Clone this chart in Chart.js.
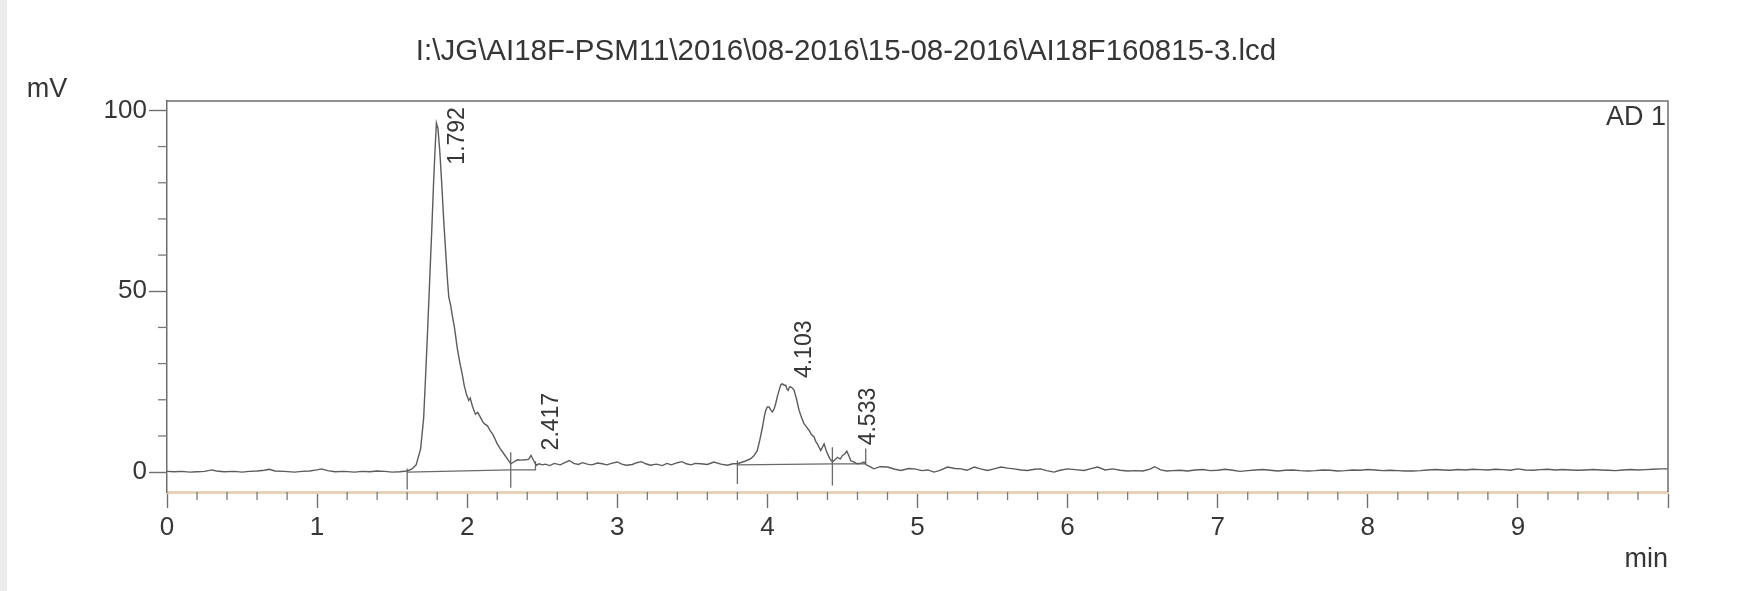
<!DOCTYPE html>
<html>
<head>
<meta charset="utf-8">
<script src="https://cdn.jsdelivr.net/npm/chart.js@4.4.1/dist/chart.umd.min.js"></script>
<style>
  html, body { margin: 0; padding: 0; background: #ffffff; }
  #wrap { width: 1758px; height: 591px; }
</style>
</head>
<body>
<div id="wrap"><canvas id="myChart" width="1758" height="591"></canvas></div>
<script>
// chromatogram trace, time in min and signal in mV
var timeMin = [
  0.00, 0.05, 0.10, 0.15, 0.20, 0.25, 0.30, 0.33, 0.38, 0.45, 0.50, 0.55, 0.60, 0.65, 0.68, 0.72, 0.78, 0.85, 0.90, 0.95,
  1.00, 1.03, 1.07, 1.12, 1.18, 1.25, 1.30, 1.35, 1.40, 1.45, 1.50, 1.55, 1.60,
  1.63, 1.66, 1.69, 1.71, 1.72, 1.735, 1.75, 1.765, 1.776, 1.788, 1.795, 1.805, 1.817, 1.83, 1.843, 1.855, 1.867, 1.877,
  1.89, 1.90, 1.915, 1.933, 1.95, 1.967, 1.98, 1.995, 2.01, 2.02, 2.033, 2.045, 2.055, 2.07, 2.09, 2.105, 2.12, 2.135,
  2.155, 2.17, 2.185, 2.20, 2.22, 2.245, 2.27, 2.29, 2.31, 2.335, 2.36, 2.39, 2.41, 2.425, 2.445, 2.46, 2.48, 2.50,
  2.52, 2.55, 2.58, 2.62, 2.65, 2.68, 2.71, 2.74, 2.77, 2.80, 2.83, 2.87, 2.90, 2.93, 2.96, 3.00, 3.03, 3.06, 3.10,
  3.13, 3.16, 3.19, 3.22, 3.26, 3.30, 3.33, 3.36, 3.40, 3.43, 3.46, 3.49, 3.52, 3.556, 3.60, 3.644, 3.69, 3.733, 3.77,
  3.80, 3.85, 3.889, 3.91, 3.933, 3.95, 3.967, 3.98, 3.989, 4.00, 4.011, 4.022, 4.033, 4.045, 4.055, 4.067, 4.078,
  4.09, 4.10, 4.112, 4.122, 4.13, 4.138, 4.147, 4.155, 4.167, 4.178, 4.195, 4.211, 4.228, 4.244, 4.26, 4.278, 4.295,
  4.311, 4.322, 4.333, 4.345, 4.355, 4.367, 4.378, 4.39, 4.40, 4.415, 4.433, 4.45, 4.467, 4.485, 4.50, 4.515, 4.529,
  4.545, 4.555, 4.58, 4.60, 4.625, 4.644, 4.66, 4.68,
  4.71, 4.75, 4.80, 4.85, 4.89, 4.94, 4.98, 5.03, 5.07, 5.11, 5.15, 5.20, 5.25, 5.29, 5.33, 5.378, 5.42, 5.467, 5.51,
  5.556, 5.60, 5.644, 5.69, 5.733, 5.78, 5.82, 5.86, 5.91, 5.95, 6.00, 6.05, 6.11, 6.15, 6.20,
  6.25, 6.30, 6.35, 6.40, 6.45, 6.50, 6.55, 6.58, 6.62, 6.66, 6.70, 6.75, 6.80, 6.85, 6.90, 6.95, 7.00, 7.05, 7.10, 7.15,
  7.20, 7.25, 7.30, 7.35, 7.40, 7.45, 7.50, 7.55, 7.60, 7.65, 7.70, 7.75, 7.80, 7.85, 7.90, 7.95, 8.00, 8.05, 8.10, 8.15,
  8.20, 8.25, 8.30, 8.35, 8.40, 8.45, 8.50, 8.55, 8.60, 8.65, 8.70, 8.75, 8.80, 8.85, 8.90, 8.95, 9.00, 9.05, 9.10, 9.15,
  9.20, 9.25, 9.30, 9.35, 9.40, 9.45, 9.50, 9.55, 9.60, 9.65, 9.70, 9.75, 9.80, 9.85, 9.90, 9.95, 10.00
];
var signalMv = [
  0.2, 0.1, 0.2, 0.0, 0.1, 0.2, 0.6, 0.3, 0.1, 0.2, 0.0, 0.2, 0.3, 0.5, 0.8, 0.3, 0.2, 0.0, 0.2, 0.3,
  0.6, 0.9, 0.4, 0.1, 0.2, 0.0, 0.2, 0.1, 0.3, 0.2, 0.0, 0.1, 0.3,
  0.8, 2.0, 6.5, 15.0, 24.0, 38.0, 53.0, 68.0, 80.0, 91.0, 96.5, 95.0, 89.0, 80.0, 70.0, 62.0, 54.0, 48.5,
  46.0, 43.5, 40.0, 34.5, 30.5, 27.0, 24.0, 21.5, 19.8, 20.5, 18.5, 17.0, 16.0, 16.5, 15.0, 13.8, 13.2, 12.8,
  11.3, 10.5, 9.2, 7.8, 6.5, 5.0, 3.5, 2.3, 2.8, 3.4, 3.3, 3.4, 3.6, 4.6, 3.0, 1.9, 2.3, 2.0,
  2.2, 1.8, 2.4, 2.0, 2.6, 3.2, 2.4, 2.1, 2.6, 2.2, 2.0, 2.5, 2.3, 2.0, 2.4, 2.8, 2.2, 1.9, 2.1,
  2.6, 2.9, 2.3, 1.9, 2.2, 1.8, 2.4, 2.0, 2.6, 2.9, 2.3, 2.0, 2.4, 2.3, 2.1, 2.8, 2.2, 1.9, 2.3,
  2.3, 3.0, 3.7, 4.5, 6.0, 9.0, 12.4, 15.5, 17.1, 18.0, 18.0, 17.2, 16.6, 17.5, 18.9, 21.0, 22.6,
  24.2, 24.4, 24.0, 24.0, 23.0, 22.6, 23.5, 23.6, 23.2, 22.6, 20.0, 17.1, 15.0, 13.4, 12.5, 11.5, 10.3,
  9.7, 8.5, 7.8, 6.8, 6.0, 6.9, 7.8, 6.2, 5.1, 3.8, 2.8, 3.4, 4.1, 3.6, 4.6, 5.0, 5.8,
  4.3, 3.2, 2.7, 2.3, 2.5, 2.8, 2.0, 1.6,
  0.9, 1.5, 1.4, 0.8, 0.45, 1.0, 0.9, 0.4, 0.6, 0.0, 0.5, 1.4, 1.0, 0.9, 0.5, 1.4, 0.9, 0.45, 0.9,
  1.4, 1.1, 0.9, 0.6, 0.45, 0.8, 0.9, 0.4, 0.0, 0.5, 0.9, 0.7, 0.45, 0.9, 1.4,
  0.6, 0.9, 0.5, 0.3, 0.4, 0.3, 0.8, 1.5, 0.6, 0.3, 0.4, 0.5, 0.3, 0.6, 0.7, 0.4, 0.5, 0.8, 0.5, 0.2,
  0.4, 0.6, 0.7, 0.5, 0.3, 0.5, 0.6, 0.4, 0.3, 0.4, 0.6, 0.5, 0.3, 0.4, 0.6, 0.5, 0.7, 0.6, 0.4, 0.5,
  0.4, 0.3, 0.3, 0.4, 0.6, 0.7, 0.6, 0.5, 0.7, 0.6, 0.8, 0.7, 0.6, 0.8, 0.7, 0.5, 0.9, 0.6, 0.5, 0.7,
  0.8, 0.6, 0.7, 0.6, 0.5, 0.6, 0.7, 0.6, 0.5, 0.4, 0.6, 0.7, 0.6, 0.7, 0.8, 0.9, 0.9
];

// integration baselines (start/end of each segment)
var baseStartT = [1.60, 2.29, 3.80, 4.433];
var baseStartV = [0.0, 0.6, 2.0, 2.3];
var baseEndT = [2.29, 2.455, 4.433, 4.655];
var baseEndV = [0.6, 0.6, 2.3, 2.3];

// peak start/end markers
var markT = [1.60, 2.29, 2.455, 3.80, 4.433, 4.655];
var markLo = [-4.8, -4.3, 0.5, -3.3, -3.7, 2.3];
var markHi = [1.0, 5.5, 3.0, 3.2, 6.9, 6.5];

// peak labels
var peakLabels = ["1.792", "2.417", "4.103", "4.533"];
var peakTimes = [1.792, 2.417, 4.103, 4.533];
var peakLabelFrom = [85, 6, 26, 7.4];

var xMajor = [0, 1, 2, 3, 4, 5, 6, 7, 8, 9, 10];
var yMajor = [0, 50, 100];
var titleText = "I:\\JG\\AI18F-PSM11\\2016\\08-2016\\15-08-2016\\AI18F160815-3.lcd";

var FONT = '"Liberation Sans", Arial, sans-serif';
var TXT = '#363636';

var trace = timeMin.map(function (t, i) { return { x: t, y: signalMv[i] }; });

var baseLines = [];
baseStartT.forEach(function (t, i) {
  baseLines.push({ x: t, y: baseStartV[i] });
  baseLines.push({ x: baseEndT[i], y: baseEndV[i] });
  baseLines.push({ x: baseEndT[i], y: null });
});

var marks = [];
markT.forEach(function (t, i) {
  marks.push({ x: t, y: markLo[i] });
  marks.push({ x: t, y: markHi[i] });
  marks.push({ x: t, y: null });
});

var xMinor = [];
for (var k = 1; k < 50; k++) { if (k % 5 !== 0) xMinor.push(k / 5); }
var yMinor = [10, 20, 30, 40, 60, 70, 80, 90];

var decorations = {
  id: 'decorations',
  beforeDraw: function (chart) {
    var c = chart.ctx;
    c.save();
    c.fillStyle = '#ffffff';
    c.fillRect(0, 0, chart.width, chart.height);
    c.fillStyle = '#ececec';
    c.fillRect(0, 0, 7, chart.height);
    c.restore();
  },
  afterDraw: function (chart) {
    var c = chart.ctx, a = chart.chartArea, xs = chart.scales.x, ys = chart.scales.y;
    c.save();
    // top and right frame
    c.strokeStyle = '#6e6e6e';
    c.lineWidth = 1.5;
    c.beginPath();
    c.moveTo(a.left, a.top);
    c.lineTo(a.right, a.top);
    c.lineTo(a.right, a.bottom);
    c.stroke();
    // minor ticks
    c.strokeStyle = '#7a7a7a';
    c.lineWidth = 1.3;
    xMinor.forEach(function (t) {
      var px = xs.getPixelForValue(t);
      c.beginPath(); c.moveTo(px, a.bottom); c.lineTo(px, a.bottom + 8); c.stroke();
    });
    yMinor.forEach(function (v) {
      var py = ys.getPixelForValue(v);
      c.beginPath(); c.moveTo(a.left - 9, py); c.lineTo(a.left, py); c.stroke();
    });
    // peak labels
    c.fillStyle = TXT;
    c.font = '23px ' + FONT;
    c.textAlign = 'left';
    c.textBaseline = 'top';
    peakLabels.forEach(function (lab, i) {
      c.save();
      c.translate(xs.getPixelForValue(peakTimes[i]) + 10, ys.getPixelForValue(peakLabelFrom[i]));
      c.rotate(-Math.PI / 2);
      c.fillText(lab, 0, 0);
      c.restore();
    });
    // title and axis captions
    c.textBaseline = 'middle';
    c.font = '29.5px ' + FONT;
    c.textAlign = 'center';
    c.fillText(titleText, 846, 52);
    c.font = '27px ' + FONT;
    c.fillText('mV', 47, 90);
    c.textAlign = 'right';
    c.fillText('AD 1', a.right - 2, a.top + 17);
    c.fillText('min', a.right, 560);
    c.restore();
  }
};

var ctx = document.getElementById('myChart').getContext('2d');
var chart = new Chart(ctx, {
  type: 'line',
  data: {
    datasets: [{
      data: trace,
      borderColor: '#5c5c5c',
      borderWidth: 1.4,
      pointRadius: 0,
      tension: 0
    }, {
      data: baseLines,
      borderColor: '#6a6a6a',
      borderWidth: 1.3,
      pointRadius: 0,
      spanGaps: false
    }, {
      data: marks,
      borderColor: '#6a6a6a',
      borderWidth: 1.3,
      pointRadius: 0,
      spanGaps: false
    }]
  },
  options: {
    responsive: false,
    animation: false,
    events: [],
    layout: { padding: { top: 101, left: 0, right: 90, bottom: 0 } },
    plugins: { legend: { display: false }, tooltip: { enabled: false }, title: { display: false } },
    scales: {
      x: {
        type: 'linear',
        min: 0,
        max: 10,
        afterBuildTicks: function (s) { s.ticks = xMajor.map(function (v) { return { value: v }; }); },
        afterFit: function (s) { s.height = 99; },
        ticks: {
          autoSkip: false,
          maxRotation: 0,
          padding: 4,
          color: TXT,
          font: { family: FONT, size: 26 },
          callback: function (v) { return v === 10 ? '' : String(v); }
        },
        grid: { drawOnChartArea: false, tickLength: 16, tickColor: '#707070', tickWidth: 1.4 },
        border: { color: '#e6d2b8', width: 3 }
      },
      y: {
        min: -5.5,
        max: 102.6,
        afterBuildTicks: function (s) { s.ticks = yMajor.map(function (v) { return { value: v }; }); },
        afterFit: function (s) { s.width = 167; },
        ticks: {
          padding: 2,
          color: TXT,
          font: { family: FONT, size: 26 },
          callback: function (v) { return String(v); }
        },
        grid: { drawOnChartArea: false, tickLength: 18, tickColor: '#707070', tickWidth: 1.4 },
        border: { color: '#6e6e6e', width: 1.5 }
      }
    }
  },
  plugins: [decorations]
});
</script>
</body>
</html>
